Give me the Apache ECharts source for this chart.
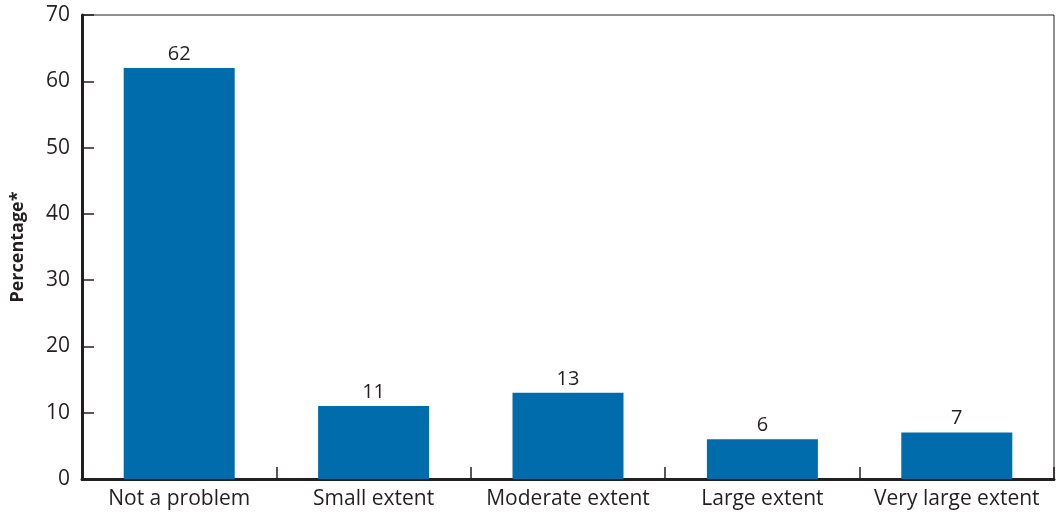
<!DOCTYPE html>
<html lang="en">
<head>
    <meta charset="UTF-8">
    <title>Percentage chart</title>
    <script src="https://cdn.jsdelivr.net/npm/echarts@6.0.0/dist/echarts.min.js"></script>
    <style>
        html, body { margin: 0; padding: 0; background: #fff; }
        #grafica { width: 1056px; height: 515px; }
    </style>
</head>
<body>
    <div id="grafica"></div>
    <script>
        const categorias = ['Not a problem', 'Small extent', 'Moderate extent', 'Large extent', 'Very large extent'];
        const valores = [62, 11, 13, 6, 7];
        const ejeY = { min: 0, max: 70, interval: 10 };

        const tinta = '#231f20';
        const fuente = '"Open Sans", "Noto Sans", sans-serif';

        let myChart = echarts.init(document.getElementById('grafica'));

        let option = {
            animation: false,
            grid: {
                left: 82, right: 2, top: 15, bottom: 36,
                outerBoundsMode: 'none',
                containLabel: false,
                show: true, borderColor: tinta, borderWidth: 1
            },
            xAxis: {
                type: 'category',
                data: categorias,
                axisLine: { lineStyle: { color: tinta, width: 3 } },
                axisTick: { show: true, interval: 0, inside: true, length: 12, lineStyle: { color: tinta, width: 1.5 } },
                axisLabel: { interval: 0, color: tinta, fontSize: 21, fontFamily: fuente, margin: 10 }
            },
            yAxis: {
                type: 'value',
                min: ejeY.min, max: ejeY.max, interval: ejeY.interval,
                name: 'Percentage*',
                nameLocation: 'middle',
                nameGap: 55,
                nameTextStyle: { color: tinta, fontSize: 18, fontWeight: 'bold', fontFamily: fuente },
                splitLine: { show: false },
                axisLine: { show: true, lineStyle: { color: tinta, width: 3 } },
                axisTick: { show: true, inside: true, length: 12, lineStyle: { color: tinta, width: 1.5 } },
                axisLabel: { color: tinta, fontSize: 21, fontFamily: fuente, margin: 12 }
            },
            series: [
                {
                    type: 'bar',
                    data: valores,
                    barWidth: 111,
                    itemStyle: { color: '#006cab' },
                    label: {
                        show: true, position: 'top', distance: 4,
                        color: tinta, fontSize: 20, fontFamily: fuente
                    }
                }
            ]
        };

        myChart.setOption(option);
    </script>
</body>
</html>
